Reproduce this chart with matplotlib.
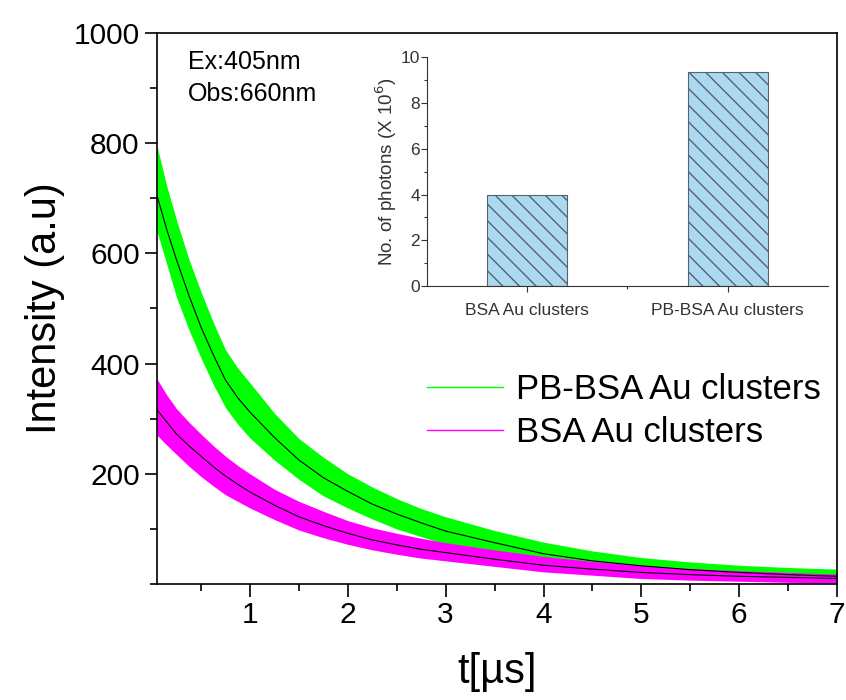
import numpy as np
import matplotlib
matplotlib.use('Agg')
import matplotlib.pyplot as plt
from matplotlib.lines import Line2D
from matplotlib.ticker import MultipleLocator

plt.rcParams['font.family'] = ['Liberation Sans', 'DejaVu Sans']
plt.rcParams['hatch.linewidth'] = 1.0

# decay traces (time in us, intensity in a.u.)
t = [0.05, 0.15, 0.25, 0.375, 0.5, 0.625, 0.75, 0.875, 1.0, 1.25, 1.5, 1.75, 2.0,
     2.25, 2.5, 2.75, 3.0, 3.5, 4.0, 4.5, 5.0, 5.5, 6.0, 6.5, 7.0]

pb_fit = [705, 643, 588, 524, 466, 416, 370, 338, 312, 266, 225, 193, 168,
          145, 127, 111, 96, 75, 55, 42, 33, 26, 21, 17, 14]
pb_hi = [795, 722, 660, 590, 530, 475, 425, 392, 365, 310, 264, 230, 200,
         176, 155, 137, 122, 97, 76, 60, 48, 40, 34, 30, 27]
pb_lo = [640, 580, 520, 462, 410, 362, 320, 290, 265, 225, 190, 160, 138,
         118, 100, 86, 72, 55, 38, 28, 20, 14, 10, 7, 5]

bsa_fit = [316, 294, 272, 251, 232, 213, 196, 181, 167, 143, 122, 106, 92,
           80, 71, 63, 57, 45, 34, 27, 21, 17, 14, 12, 10]
bsa_hi = [372, 343, 318, 294, 272, 251, 232, 215, 200, 172, 150, 132, 115,
          102, 92, 83, 75, 62, 50, 41, 34, 28, 24, 21, 18]
bsa_lo = [270, 252, 235, 214, 195, 178, 162, 150, 138, 117, 98, 84, 72,
          62, 54, 47, 42, 32, 22, 16, 10, 7, 5, 3, 2]

# inset bars
samples = ['BSA Au clusters', 'PB-BSA Au clusters']
photons = [4.0, 9.35]

GREEN = '#00ff00'
MAGENTA = '#ff00ff'

fig = plt.figure(figsize=(8.46, 7.0), dpi=100)
ax = fig.add_axes([0.1856, 0.1657, 0.8038, 0.7872])

ax.fill_between(t, pb_lo, pb_hi, color=GREEN, lw=0)
ax.plot(t, pb_fit, color='black', lw=0.8)
ax.fill_between(t, bsa_lo, bsa_hi, color=MAGENTA, lw=0)
ax.plot(t, bsa_fit, color='black', lw=0.8)

ax.set_xlim(0.05, 7)
ax.set_ylim(0, 1000)
ax.set_xticks([1, 2, 3, 4, 5, 6, 7])
ax.xaxis.set_minor_locator(MultipleLocator(0.5))
ax.set_yticks([200, 400, 600, 800, 1000])
ax.yaxis.set_minor_locator(MultipleLocator(100))
ax.tick_params(which='major', direction='out', length=9, width=1.2, labelsize=21.5)
ax.tick_params(which='minor', direction='out', length=5, width=1.2)
for sp in ax.spines.values():
    sp.set_linewidth(1.2)

ax.set_xlabel('t[µs]', fontsize=30, labelpad=16)
ax.set_ylabel('Intensity (a.u)', fontsize=30, labelpad=6)

ax.text(0.0456, 0.947, 'Ex:405nm', transform=ax.transAxes, fontsize=18, va='center')
ax.text(0.0456, 0.889, 'Obs:660nm', transform=ax.transAxes, fontsize=18, va='center')

handles = [Line2D([], [], color=GREEN, lw=1), Line2D([], [], color=MAGENTA, lw=1)]
fig.legend(handles, ['PB-BSA Au clusters', 'BSA Au clusters'],
           loc='center left', bbox_to_anchor=(0.5047, 0.413), frameon=False,
           fontsize=25, handlelength=2.2, handletextpad=0.35,
           borderpad=0, borderaxespad=0, labelspacing=0.3)

# inset bar chart
ins = fig.add_axes([0.5044, 0.5914, 0.4743, 0.3267])
ins.bar([1, 2], photons, width=0.4, color='#acd9f2', edgecolor='#55636e',
        hatch='\\\\', lw=0.8)
ins.set_xlim(0.5, 2.5)
ins.set_ylim(0, 10)
ins.set_xticks([1, 2])
ins.set_xticklabels(samples)
ins.set_xticks([1.5], minor=True)
ins.set_yticks([0, 2, 4, 6, 8, 10])
ins.yaxis.set_minor_locator(MultipleLocator(1))
ins.spines['top'].set_visible(False)
ins.spines['right'].set_visible(False)
ins.tick_params(which='major', direction='out', length=4, width=0.8, labelsize=12.5,
                colors='#333333', labelcolor='#333333')
ins.tick_params(which='minor', direction='out', length=2.5, width=0.8, colors='#333333')
ins.tick_params(axis='x', pad=8)
ins.tick_params(axis='y', pad=1)
for sp in ins.spines.values():
    sp.set_linewidth(0.8)
    sp.set_color('#333333')
ins.set_ylabel('No. of photons (X 10$^6$)', fontsize=13.5, color='#333333', labelpad=1)
ins.patch.set_alpha(0)

fig.savefig('out.png', dpi=100)
